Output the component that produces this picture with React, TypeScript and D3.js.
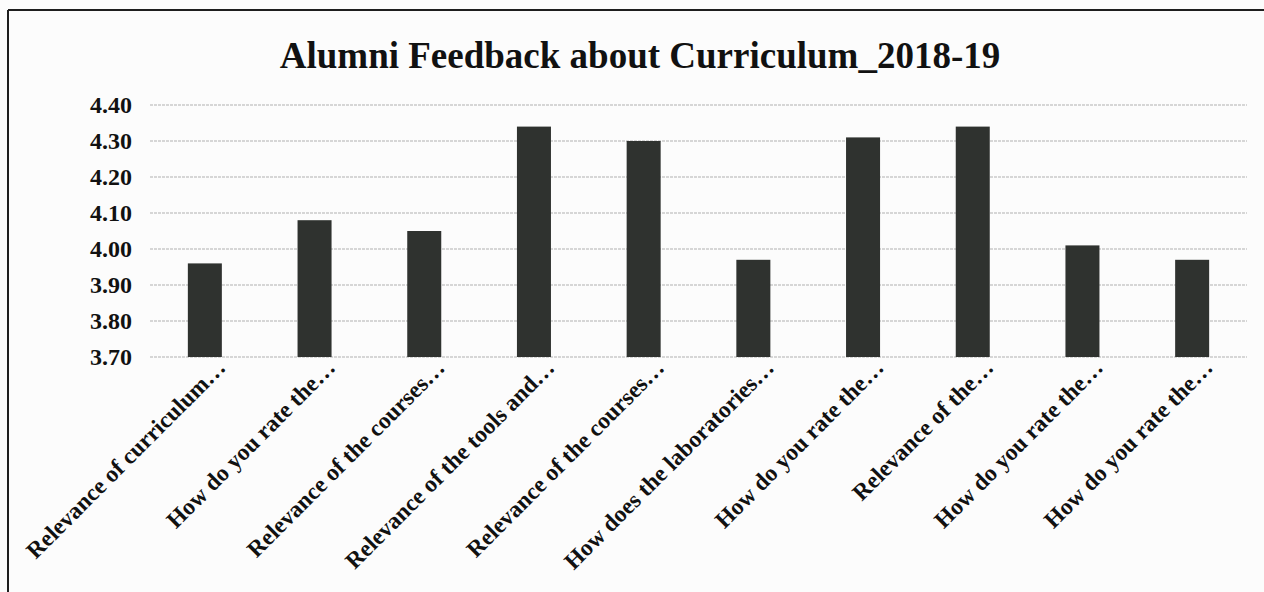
import React from 'react';
import * as d3 from 'd3';

const categories = [
  'Relevance of curriculum…',
  'How do you rate the…',
  'Relevance of the courses…',
  'Relevance of the tools and…',
  'Relevance of the courses…',
  'How does the laboratories…',
  'How do you rate the…',
  'Relevance of the…',
  'How do you rate the…',
  'How do you rate the…',
];
const scores = [3.96, 4.08, 4.05, 4.34, 4.3, 3.97, 4.31, 4.34, 4.01, 3.97];
const yTicks = [3.7, 3.8, 3.9, 4.0, 4.1, 4.2, 4.3, 4.4];

const W = 1264;
const H = 592;
const plot = { left: 150, right: 1247, top: 105, bottom: 357 };
const font = '"Liberation Serif", "Times New Roman", serif';

const App = () => {
  const x = d3
    .scaleBand<number>()
    .domain(d3.range(categories.length))
    .range([plot.left, plot.right])
    .paddingInner(0.69)
    .paddingOuter(0.345);

  const y = d3.scaleLinear().domain([3.7, 4.4]).range([plot.bottom, plot.top]);

  return (
    <svg
      width={W}
      height={H}
      style={{ position: 'absolute', left: 0, top: 0, background: '#fcfcfc' }}
    >
      {/* frame: only top and left edges show in the scan */}
      <line x1={8} y1={10} x2={W} y2={10} stroke="#1e1e1e" strokeWidth={2} />
      <line x1={8} y1={10} x2={8} y2={H} stroke="#1e1e1e" strokeWidth={2} />

      <text
        x={640}
        y={68}
        textAnchor="middle"
        fontFamily={font}
        fontWeight="bold"
        fontSize={37}
        fill="#111"
      >
        Alumni Feedback about Curriculum_2018-19
      </text>

      {/* grid + y labels */}
      {yTicks.map((t) => (
        <g key={t}>
          <line
            x1={plot.left}
            x2={plot.right}
            y1={y(t)}
            y2={y(t)}
            stroke="#b0b0b0"
            strokeWidth={1}
            strokeDasharray="3 1"
          />
          <text
            x={132}
            y={y(t)}
            dy="0.35em"
            textAnchor="end"
            fontFamily={font}
            fontWeight="bold"
            fontSize={24}
            fill="#111"
          >
            {t.toFixed(2)}
          </text>
        </g>
      ))}

      {scores.map((v, i) => (
        <rect
          key={i}
          x={x(i)}
          y={y(v)}
          width={x.bandwidth()}
          height={plot.bottom - y(v)}
          fill="#2f322f"
        />
      ))}

      {categories.map((c, i) => {
        const cx = (x(i) as number) + x.bandwidth() / 2 + 22;
        const cy = plot.bottom + 12;
        return (
          <text
            key={i}
            transform={`translate(${cx},${cy}) rotate(-45)`}
            textAnchor="end"
            fontFamily={font}
            fontWeight="bold"
            fontSize={23.5}
            fill="#111"
          >
            {c}
          </text>
        );
      })}
    </svg>
  );
};

export default App;
